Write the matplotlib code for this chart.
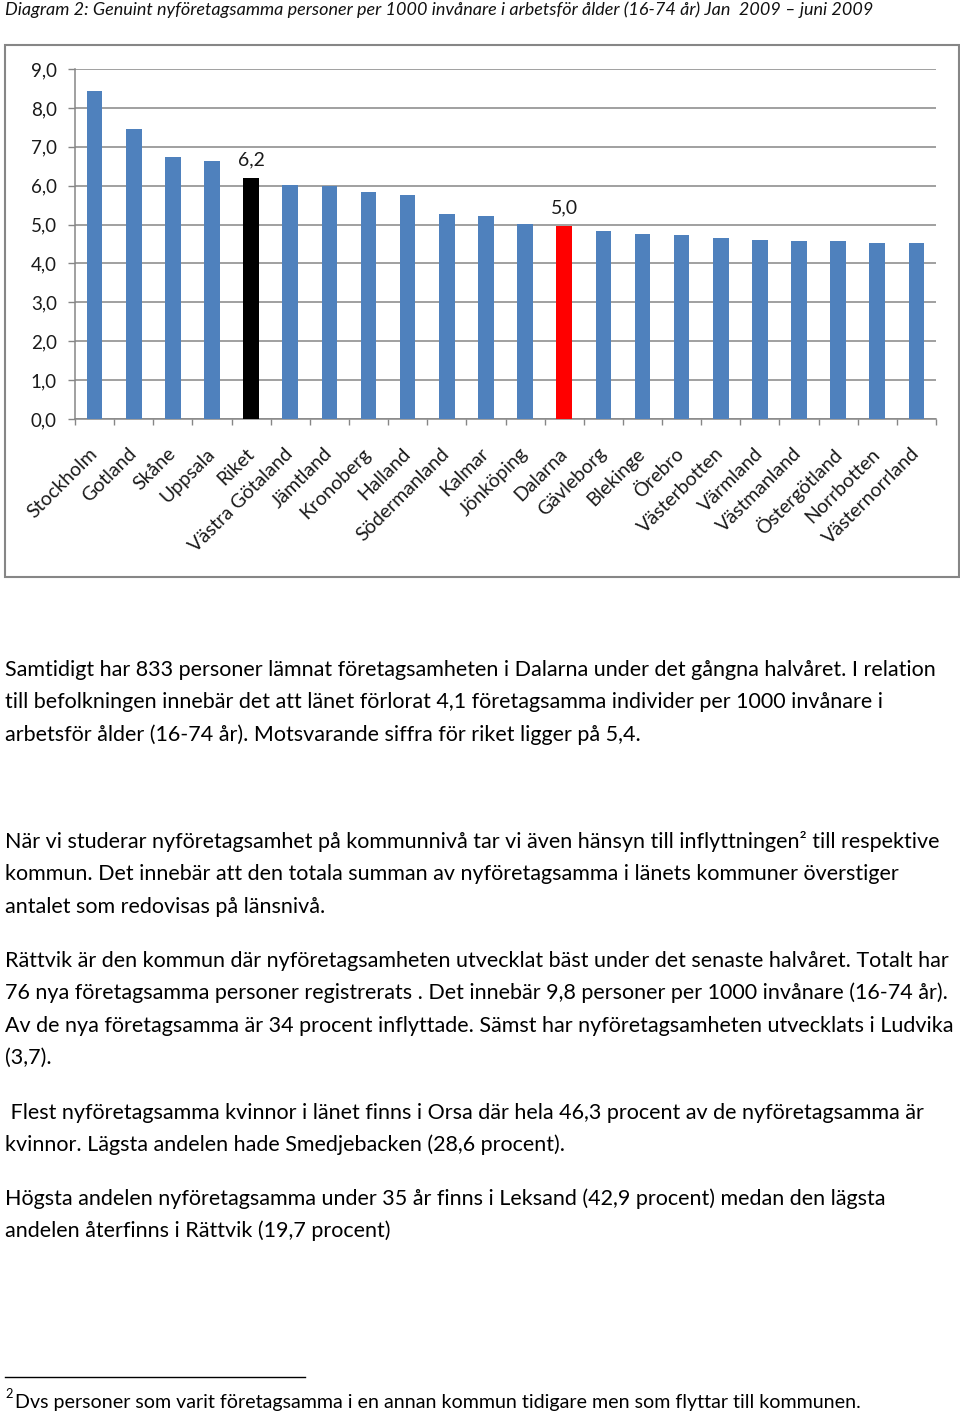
import matplotlib
matplotlib.use("Agg")
import matplotlib.pyplot as plt
from matplotlib.patches import Rectangle
from matplotlib.ticker import FixedLocator
import numpy as np

plt.rcParams['font.family'] = ['Lato', 'DejaVu Sans']

regions = ["Stockholm", "Gotland", "Skåne", "Uppsala", "Riket", "Västra Götaland",
           "Jämtland", "Kronoberg", "Halland", "Södermanland", "Kalmar", "Jönköping",
           "Dalarna", "Gävleborg", "Blekinge", "Örebro", "Västerbotten", "Värmland",
           "Västmanland", "Östergötland", "Norrbotten", "Västernorrland"]
values = [8.43, 7.45, 6.73, 6.63, 6.19, 6.03, 6.00, 5.83, 5.77, 5.28, 5.23, 5.02,
          4.97, 4.83, 4.76, 4.73, 4.65, 4.60, 4.58, 4.58, 4.53, 4.53]
labelled = ["Riket", "Dalarna"]
yticks = [0, 1, 2, 3, 4, 5, 6, 7, 8, 9]

title = ("Diagram 2: Genuint nyföretagsamma personer per 1000 invånare i arbetsför "
         "ålder (16-74 år) Jan  2009 – juni 2009")
paragraphs = [
    ["Samtidigt har 833 personer lämnat företagsamheten i Dalarna under det gångna halvåret. I relation",
     "till befolkningen innebär det att länet förlorat 4,1 företagsamma individer per 1000 invånare i",
     "arbetsför ålder (16-74 år). Motsvarande siffra för riket ligger på 5,4."],
    ["När vi studerar nyföretagsamhet på kommunnivå tar vi även hänsyn till inflyttningen² till respektive",
     "kommun. Det innebär att den totala summan av nyföretagsamma i länets kommuner överstiger",
     "antalet som redovisas på länsnivå."],
    ["Rättvik är den kommun där nyföretagsamheten utvecklat bäst under det senaste halvåret. Totalt har",
     "76 nya företagsamma personer registrerats . Det innebär 9,8 personer per 1000 invånare (16-74 år).",
     "Av de nya företagsamma är 34 procent inflyttade. Sämst har nyföretagsamheten utvecklats i Ludvika",
     "(3,7)."],
    [" Flest nyföretagsamma kvinnor i länet finns i Orsa där hela 46,3 procent av de nyföretagsamma är",
     "kvinnor. Lägsta andelen hade Smedjebacken (28,6 procent)."],
    ["Högsta andelen nyföretagsamma under 35 år finns i Leksand (42,9 procent) medan den lägsta",
     "andelen återfinns i Rättvik (19,7 procent)"],
]
para_first_baseline = [676, 848, 967, 1119, 1205]
line_step = 32.4
footnote = "Dvs personer som varit företagsamma i en annan kommun tidigare men som flyttar till kommunen."

W, H = 960, 1416
fig = plt.figure(figsize=(W / 100, H / 100), dpi=100)


def fx(x):
    return x / W


def fy(y):
    return 1 - y / H


grey = '#868686'
blue = '#4F81BD'
ink = '#1a1a1a'

# chart frame
fig.patches.append(Rectangle((fx(5), fy(577)), 954 / W, 532 / H, transform=fig.transFigure,
                             fill=False, edgecolor=grey, linewidth=1.5))

ax = fig.add_axes([fx(75), fy(419), (936 - 75) / W, 350 / H])
x = np.arange(len(regions))
colors = [blue] * len(regions)
colors[regions.index("Riket")] = 'black'
colors[regions.index("Dalarna")] = '#FF0000'
bars = ax.bar(x, values, width=0.4, color=colors, zorder=3)

for name in labelled:
    i = regions.index(name)
    ax.annotate(f"{values[i]:.1f}".replace('.', ','), xy=(x[i], values[i]),
                xytext=(0, 7), textcoords='offset points', ha='center', va='bottom',
                fontsize=14, color=ink)

ax.set_xlim(-0.5, len(regions) - 0.5)
ax.set_ylim(0, 9)
ax.set_yticks(yticks)
ax.set_yticklabels([f"{v:.1f}".replace('.', ',') for v in yticks], fontsize=13.5, color=ink)
ax.yaxis.grid(True, color=grey, linewidth=1.1, zorder=0)
ax.tick_params(axis='y', length=5, width=1, color=grey, pad=8)

ax.set_xticks(x)
ax.set_xticklabels(regions, rotation=45, ha='right', va='center', rotation_mode='anchor',
                   fontsize=14, color=ink)
ax.tick_params(axis='x', which='major', length=0, pad=23)
ax.xaxis.set_minor_locator(FixedLocator(np.arange(-0.5, len(regions), 1.0)))
ax.tick_params(axis='x', which='minor', length=4, width=1, color=grey, direction='out')

for s in ['top', 'right']:
    ax.spines[s].set_visible(False)
for s in ['left', 'bottom']:
    ax.spines[s].set_color(grey)
    ax.spines[s].set_linewidth(1.1)

# text fitting helpers
fig.canvas.draw()
renderer = fig.canvas.get_renderer()


def fitted_size(txt, target, style='normal'):
    probe = fig.text(0, 0, txt, fontsize=14, style=style)
    w = probe.get_window_extent(renderer).width
    probe.remove()
    return 14 * target / w


title_size = fitted_size(title, 873, 'italic')
fig.text(fx(5), fy(15), title, fontsize=title_size, style='italic',
         ha='left', va='baseline', color='#111111')

body_size = fitted_size(paragraphs[0][0], 930)
for lines, base in zip(paragraphs, para_first_baseline):
    for k, line in enumerate(lines):
        fig.text(fx(5), fy(base + k * line_step), line, fontsize=body_size,
                 ha='left', va='baseline', color='black')

# footnote
foot_size = fitted_size(footnote, 845)
fig.add_artist(plt.Line2D([fx(5), fx(305)], [fy(1377), fy(1377)], transform=fig.transFigure,
                          color='black', linewidth=1))
fig.text(fx(5), fy(1398), "2", fontsize=body_size * 0.6, ha='left', va='baseline')
fig.text(fx(15), fy(1408), footnote, fontsize=foot_size, ha='left', va='baseline')

fig.savefig("out.png", dpi=100)
